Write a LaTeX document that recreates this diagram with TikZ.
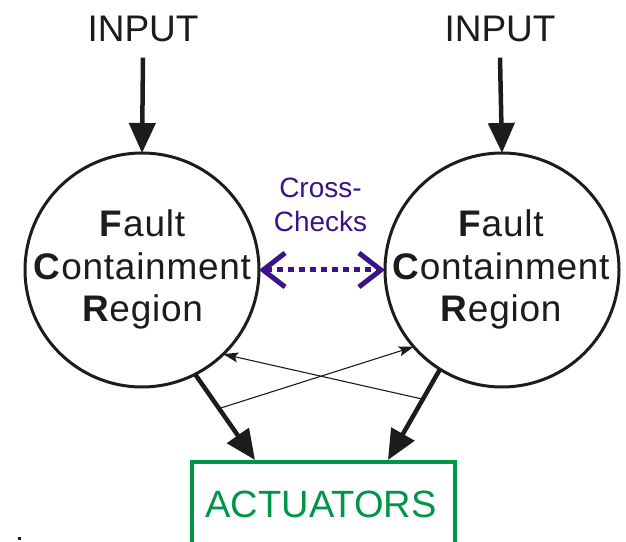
\documentclass[tikz,border=0pt]{standalone}
\usepackage{fontspec}
\setmainfont{Liberation Sans}
\usetikzlibrary{arrows.meta,calc}
\definecolor{ccpurple}{RGB}{58,20,135}
\definecolor{actgreen}{RGB}{0,150,72}
\definecolor{ink}{RGB}{28,28,28}
\begin{document}
\begin{tikzpicture}[x=1pt,y=1pt,
 region/.style={circle, draw=ink, line width=3pt, minimum size=234pt, inner sep=0pt, outer sep=0pt},
 inlbl/.style={font=\fontsize{37}{44}\selectfont, text=ink, anchor=base, inner sep=0pt},
 regtext/.style={font=\fontsize{37}{42}\selectfont\addfontfeatures{LetterSpace=2}, text=ink, anchor=base, inner sep=0pt},
 cctext/.style={font=\fontsize{28}{34}\selectfont, text=ccpurple, anchor=base, inner sep=0pt},
 bigarrow/.style={draw=ink, line width=4.5pt, -{Triangle[length=30pt,width=26pt]}},
 thinarrow/.style={draw=ink, line width=1.1pt, -{Stealth[length=15pt,width=10pt,inset=3pt]}},
 ccarrow/.style={draw=ccpurple, line width=5pt, dash pattern=on 6pt off 5pt,
   {Straight Barb[length=22pt,width=34pt,line width=5pt]}-{Straight Barb[length=22pt,width=34pt,line width=5pt]}},
 actbox/.style={draw=actgreen, line width=4.5pt, minimum width=263pt, minimum height=110pt, inner sep=0pt, outer sep=0pt, anchor=north},
 acttext/.style={font=\fontsize{38}{44}\selectfont, text=actgreen, anchor=base, inner sep=0pt}
]
\useasboundingbox (0,0) rectangle (626,541);

% inputs
\node[inlbl] (inL) at (143,499) {INPUT};
\node[inlbl] (inR) at (500,499) {INPUT};

% regions
\node[region] (L) at (142,271) {};
\node[region] (R) at (502,271) {};

\node[regtext] (L1) at (142.5,304) {\textbf{F}ault};
\node[regtext] (L2) at (142.5,261.5) {\textbf{C}ontainment};
\node[regtext] (L3) at (142.5,219) {\textbf{R}egion};
\node[regtext] (R1) at (501,304) {\textbf{F}ault};
\node[regtext] (R2) at (501,261.5) {\textbf{C}ontainment};
\node[regtext] (R3) at (501,219) {\textbf{R}egion};

% cross-checks
\node[cctext] (cc1) at (320.5,343) {Cross-};
\node[cctext] (cc2) at (320.5,309) {Checks};

% actuators
\node[actbox] (act) at (323.5,79) {};
\node[acttext] (actlbl) at (321,24) {ACTUATORS};

% connector coordinates
\coordinate (tipL) at (255,81);
\coordinate (tipR) at (388,81);
\coordinate (sB) at ($(L.-63)!0.40!(tipL)$);
\coordinate (sA) at ($(R.-122)!0.33!(tipR)$);

% input arrows
\draw[bigarrow] ([yshift=-15pt]inL.south) -- (L.north);
\draw[bigarrow] ([yshift=-15pt]inR.south) -- (R.north);

% cross-check arrow
\draw[ccarrow] (L.east) -- (R.west);

% thin cross arrows
\draw[thinarrow] (sA) -- (L.-46);
\draw[thinarrow] (sB) -- (R.-139);

% outputs
\draw[bigarrow] (L.-63) -- (tipL);
\draw[bigarrow] (R.-122) -- (tipR);

% small mark
\fill[ink] (18,1) rectangle (21,4);
\end{tikzpicture}
\end{document}
